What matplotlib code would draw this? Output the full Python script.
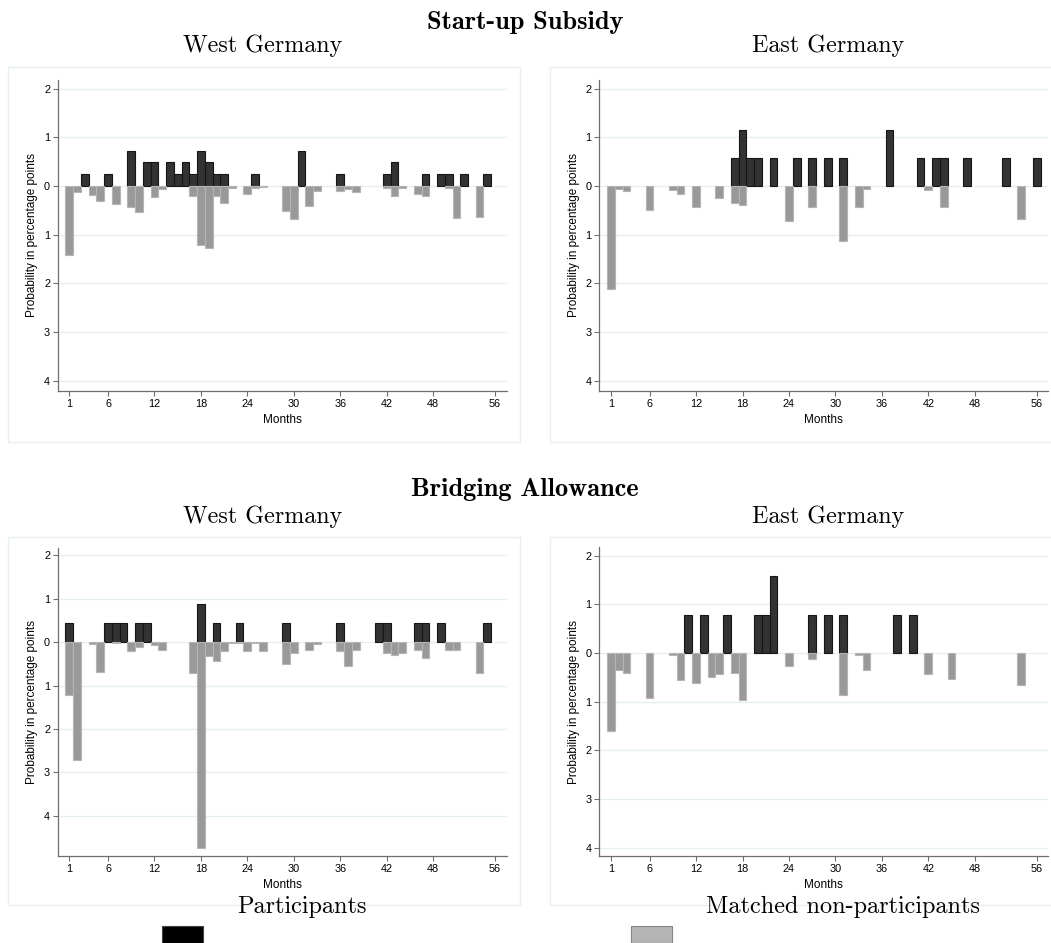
import matplotlib
matplotlib.use("Agg")
import matplotlib.pyplot as plt
import numpy as np
from matplotlib.patches import Rectangle

W, H = 1051, 943

# Start-up Subsidy, West Germany
sw_part_m = [3, 6, 9, 11, 12, 14, 15, 16, 17, 18, 19, 20, 21, 25, 31, 36, 42, 43, 47, 49, 50, 52, 55]
sw_part_v = [0.24, 0.24, 0.73, 0.49, 0.49, 0.49, 0.24, 0.49, 0.24, 0.73, 0.49, 0.24, 0.24, 0.24,
             0.73, 0.24, 0.24, 0.49, 0.24, 0.24, 0.24, 0.24, 0.24]
sw_non_m = [1, 2, 4, 5, 7, 9, 10, 12, 13, 17, 18, 19, 20, 21, 22, 24, 25, 26, 29, 30, 32, 33,
            36, 37, 38, 42, 43, 44, 46, 47, 50, 51, 54]
sw_non_v = [1.41, 0.12, 0.19, 0.31, 0.36, 0.43, 0.53, 0.23, 0.05, 0.21, 1.21, 1.28, 0.20, 0.34,
            0.03, 0.16, 0.03, 0.02, 0.51, 0.67, 0.41, 0.11, 0.11, 0.05, 0.12, 0.03, 0.21, 0.03,
            0.17, 0.20, 0.04, 0.66, 0.63]

# Start-up Subsidy, East Germany
se_part_m = [17, 18, 19, 20, 22, 25, 27, 29, 31, 37, 41, 43, 44, 47, 52, 56]
se_part_v = [0.58, 1.16, 0.58, 0.58, 0.58, 0.58, 0.58, 0.58, 0.58, 1.16, 0.58, 0.58, 0.58, 0.58,
             0.58, 0.58]
se_non_m = [1, 2, 3, 6, 9, 10, 12, 15, 17, 18, 24, 27, 31, 33, 34, 42, 44, 54]
se_non_v = [2.11, 0.06, 0.10, 0.49, 0.08, 0.16, 0.43, 0.24, 0.35, 0.38, 0.71, 0.43, 1.12, 0.42,
            0.06, 0.07, 0.42, 0.68]

# Bridging Allowance, West Germany
bw_part_m = [1, 6, 7, 8, 10, 11, 18, 20, 23, 29, 36, 41, 42, 46, 47, 49, 55]
bw_part_v = [0.45, 0.45, 0.45, 0.45, 0.45, 0.45, 0.89, 0.45, 0.45, 0.45, 0.45, 0.45, 0.45, 0.45,
             0.45, 0.45, 0.45]
bw_non_m = [1, 2, 4, 5, 7, 9, 10, 12, 13, 17, 18, 19, 20, 21, 22, 23, 24, 25, 26, 29, 30, 32,
            33, 36, 37, 38, 42, 43, 44, 46, 47, 50, 51, 54]
bw_non_v = [1.23, 2.71, 0.04, 0.69, 0.02, 0.21, 0.12, 0.06, 0.18, 0.71, 4.74, 0.31, 0.43, 0.21,
            0.03, 0.02, 0.21, 0.03, 0.21, 0.50, 0.25, 0.18, 0.04, 0.21, 0.55, 0.17, 0.25, 0.29,
            0.25, 0.17, 0.36, 0.19, 0.17, 0.71]

# Bridging Allowance, East Germany
be_part_m = [11, 13, 16, 20, 21, 22, 27, 29, 31, 38, 40]
be_part_v = [0.78, 0.78, 0.78, 0.78, 0.78, 1.58, 0.78, 0.78, 0.78, 0.78, 0.78]
be_non_m = [1, 2, 3, 6, 9, 10, 12, 14, 15, 17, 18, 24, 27, 31, 33, 34, 42, 45, 54]
be_non_v = [1.61, 0.35, 0.41, 0.92, 0.04, 0.55, 0.62, 0.50, 0.44, 0.40, 0.96, 0.27, 0.12, 0.86,
            0.03, 0.35, 0.42, 0.53, 0.66]

xticks = [1, 6, 12, 18, 24, 30, 36, 42, 48, 56]
yticks = [2, 1, 0, -1, -2, -3, -4]
ytick_labels = ["2", "1", "0", "1", "2", "3", "4"]

DARK = "#333333"
GRAY = "#999999"
GRID = "#e4eef0"
SPINE = "#6e6e6e"
SERIF = "cmr10"
SERIF_B = "cmb10"
SANS = "Liberation Sans"

fig = plt.figure(figsize=(W / 100, H / 100), dpi=100)


def px_axes(x0, x1, ytop, ybot):
    return fig.add_axes([x0 / W, 1 - ybot / H, (x1 - x0) / W, (ybot - ytop) / H])


def panel(ax, pm, pv, nm, nv, ylim):
    for y in yticks:
        ax.axhline(y, color=GRID, lw=0.9, zorder=0)
    ax.bar(pm, pv, width=1.0, color=DARK, edgecolor="#161616", lw=0.8, zorder=2)
    ax.bar(nm, -np.array(nv), width=1.0, color=GRAY, edgecolor="#b5b5b5", lw=0.8, zorder=2)
    ax.set_xlim(-0.5, 57.5)
    ax.set_ylim(*ylim)
    ax.set_xticks(xticks)
    ax.set_yticks(yticks)
    ax.set_yticklabels(ytick_labels)
    for s in ["top", "right"]:
        ax.spines[s].set_visible(False)
    for s in ["left", "bottom"]:
        ax.spines[s].set_color(SPINE)
        ax.spines[s].set_linewidth(0.9)
    ax.tick_params(axis="both", length=3.5, width=0.8, color=SPINE, labelsize=7.8, pad=2)
    for lab in ax.get_xticklabels() + ax.get_yticklabels():
        lab.set_family(SANS)
    ax.set_xlabel("Months", family=SANS, fontsize=8.5, labelpad=4)
    ax.set_ylabel("Probability in percentage points", family=SANS, fontsize=8.5, labelpad=4)


def frame(x0, x1, ytop, ybot):
    fig.patches.append(Rectangle((x0 / W, 1 - ybot / H), (x1 - x0) / W, (ybot - ytop) / H,
                                 transform=fig.transFigure, fill=False,
                                 edgecolor="#e8eff1", lw=1.0, zorder=0))


frame(8, 520, 67, 442)
frame(550, 1060, 67, 442)
frame(8, 520, 537, 905)
frame(550, 1060, 537, 905)

ax1 = px_axes(57.7, 506.7, 80, 391)
panel(ax1, sw_part_m, sw_part_v, sw_non_m, sw_non_v, (-4.21, 2.18))
ax2 = px_axes(599.3, 1048.3, 80, 391)
panel(ax2, se_part_m, se_part_v, se_non_m, se_non_v, (-4.21, 2.18))
ax3 = px_axes(57.7, 506.7, 548, 856)
panel(ax3, bw_part_m, bw_part_v, bw_non_m, bw_non_v, (-4.93, 2.17))
ax4 = px_axes(599.3, 1048.3, 547, 856)
panel(ax4, be_part_m, be_part_v, be_non_m, be_non_v, (-4.17, 2.18))

fig.text(525 / W, 1 - 22 / H, "Start-up Subsidy", family=SERIF_B, fontsize=19,
         ha="center", va="center")
fig.text(263 / W, 1 - 46 / H, "West Germany", family=SERIF, fontsize=17.3, ha="center", va="center")
fig.text(828 / W, 1 - 46 / H, "East Germany", family=SERIF, fontsize=17.3, ha="center", va="center")
fig.text(525 / W, 1 - 489 / H, "Bridging Allowance", family=SERIF_B, fontsize=19,
         ha="center", va="center")
fig.text(263 / W, 1 - 517 / H, "West Germany", family=SERIF, fontsize=17.3, ha="center", va="center")
fig.text(828 / W, 1 - 517 / H, "East Germany", family=SERIF, fontsize=17.3, ha="center", va="center")

# legend
fig.patches.append(Rectangle((162 / W, 0), 41 / W, 17 / H, transform=fig.transFigure,
                             facecolor="#000000", edgecolor="#444444", lw=0.8))
fig.patches.append(Rectangle((631 / W, 0), 41 / W, 17 / H, transform=fig.transFigure,
                             facecolor="#b4b4b4", edgecolor="#858585", lw=0.8))
fig.text(237 / W, 1 - 907 / H, "Participants", family=SERIF, fontsize=17.5, ha="left", va="center")
fig.text(706 / W, 1 - 907 / H, "Matched non-participants", family=SERIF, fontsize=17.5,
         ha="left", va="center")

fig.savefig("out.png", dpi=100)
plt.close(fig)
